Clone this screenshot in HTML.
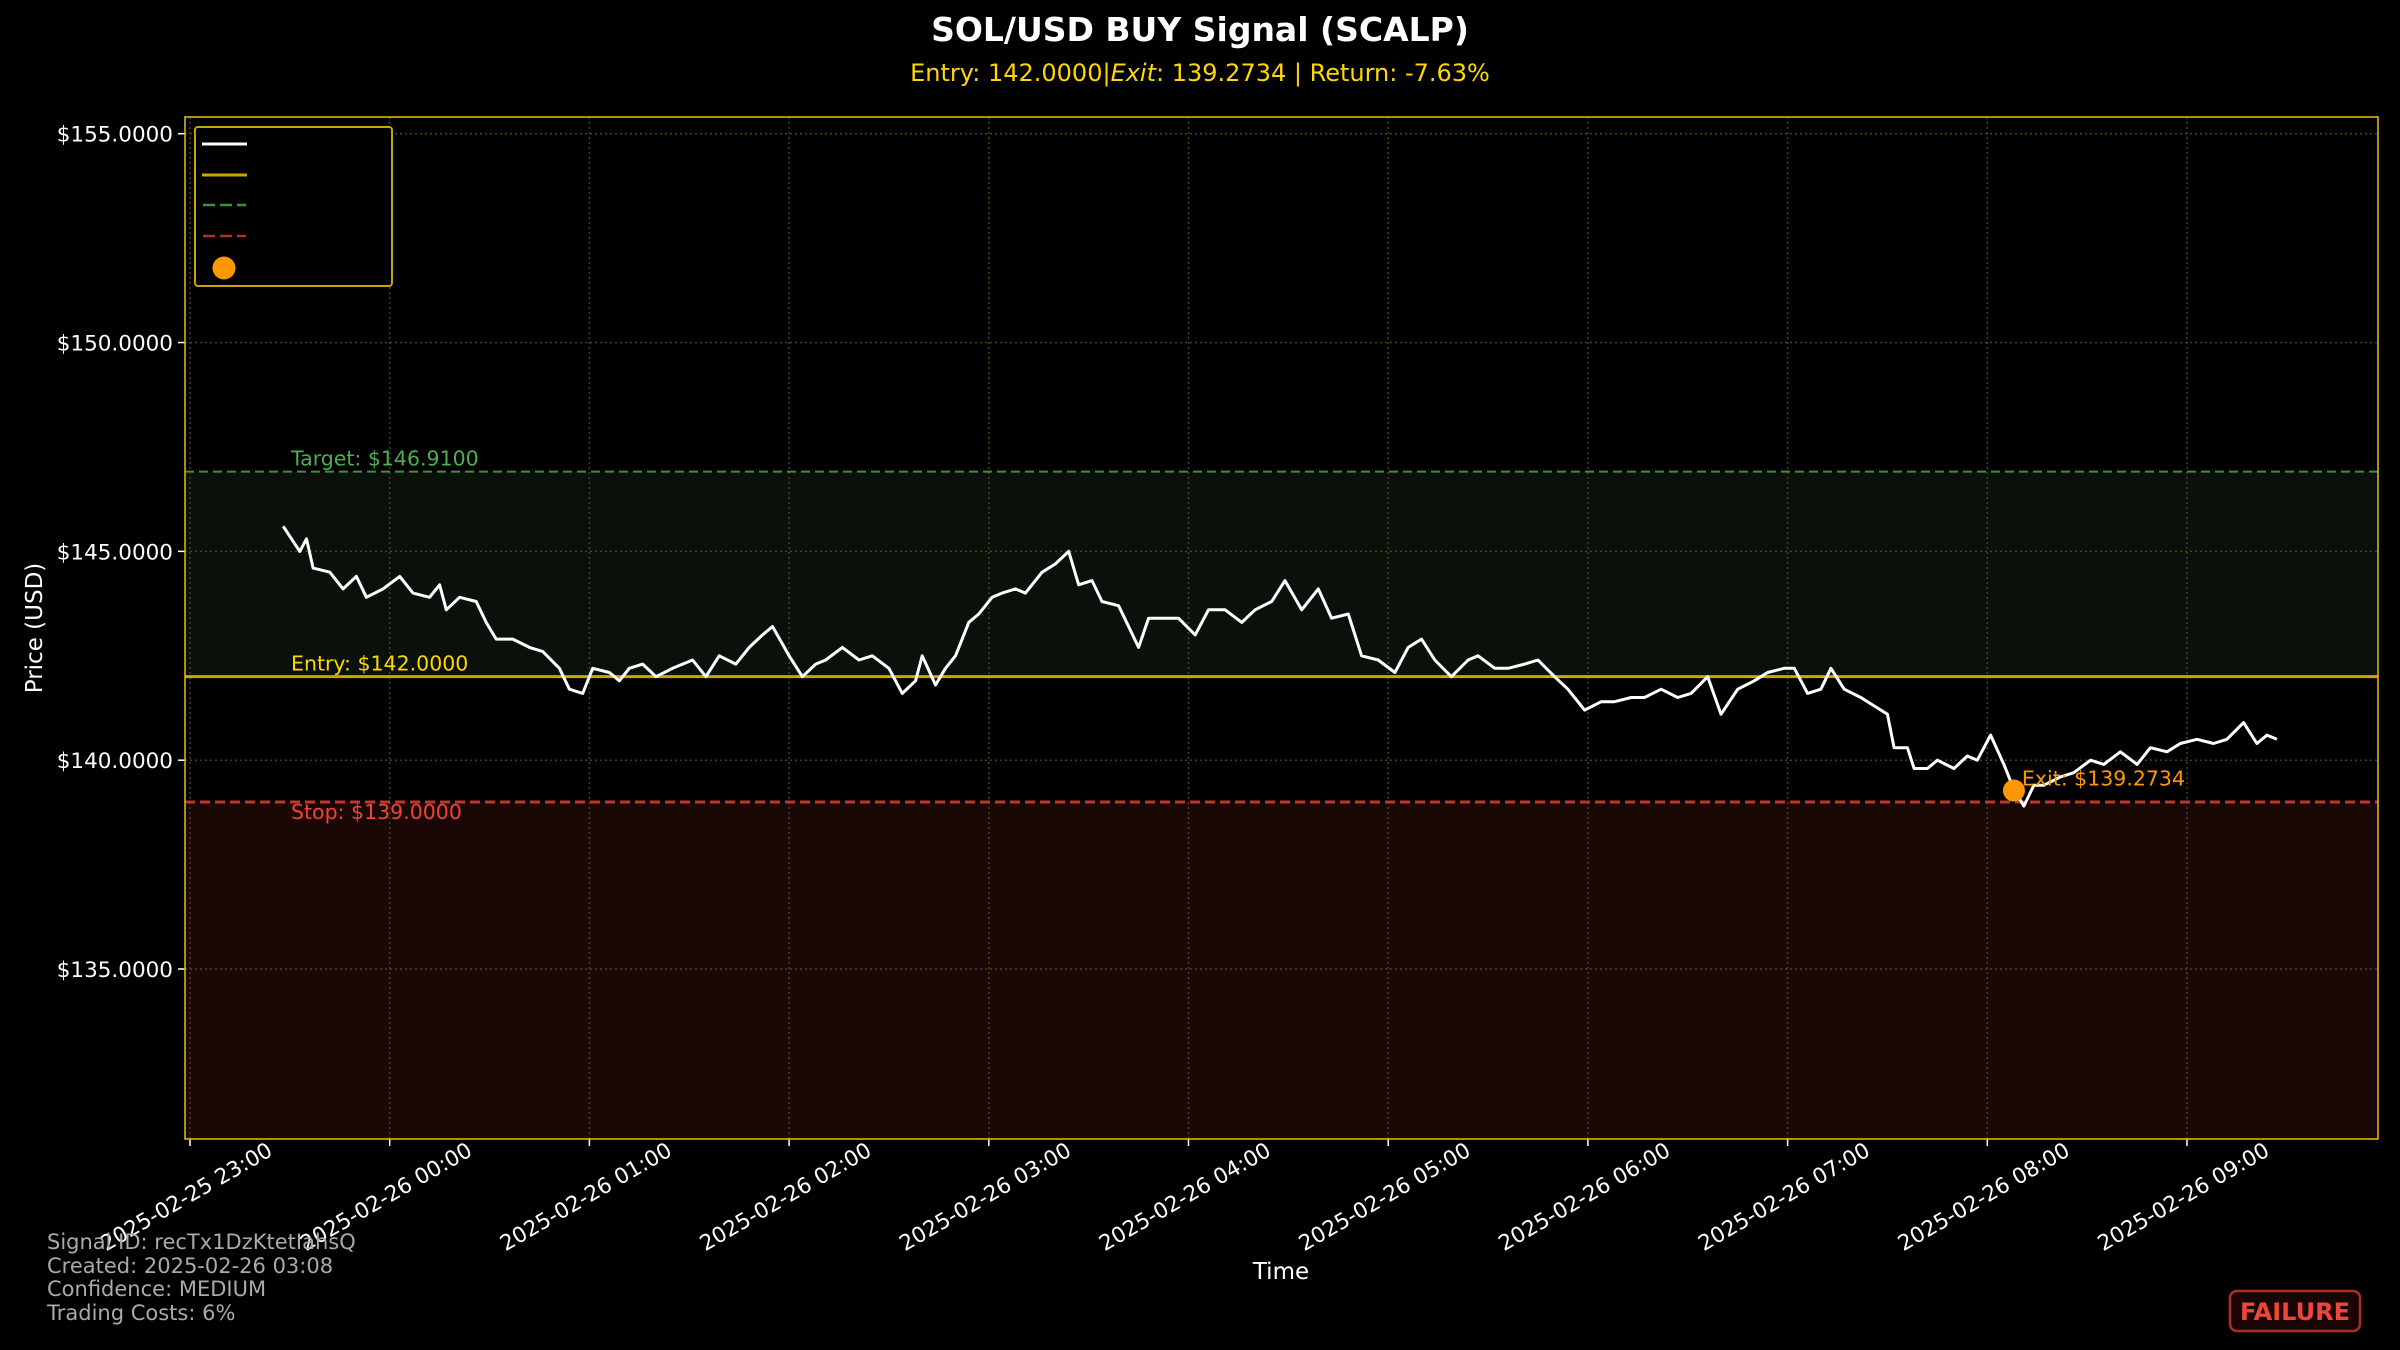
<!DOCTYPE html>
<html><head><meta charset="utf-8"><style>
html,body{margin:0;padding:0;background:#000;}
svg{display:block;font-family:"DejaVu Sans","Liberation Sans",sans-serif;}
</style></head><body>
<svg id="chart" width="2400" height="1350" viewBox="0 0 2400 1350" xmlns="http://www.w3.org/2000/svg">
<rect x="0" y="0" width="2400" height="1350" fill="#000"/>
<text x="1200" y="41" text-anchor="middle" fill="#fff" font-size="33" font-weight="bold">SOL/USD BUY Signal (SCALP)</text>
<text x="1200" y="81" text-anchor="middle" fill="#ffd700" font-size="24">Entry: 142.0000|<tspan font-style="italic">Exit</tspan>: 139.2734 | Return: -7.63%</text>
<g id="plot"></g>
<text x="1281" y="1279" text-anchor="middle" fill="#fff" font-size="23">Time</text>
<text x="0" y="0" transform="translate(42,628) rotate(-90)" text-anchor="middle" fill="#fff" font-size="23">Price (USD)</text>
<g fill="#aaa" font-size="21">
<text x="47" y="1249">Signal ID: recTx1DzKtetIahsQ</text>
<text x="47" y="1273">Created: 2025-02-26 03:08</text>
<text x="47" y="1296">Confidence: MEDIUM</text>
<text x="47" y="1320">Trading Costs: 6%</text>
</g>
<g>
<rect x="2230" y="1291" width="130" height="40" rx="7" fill="#1a0505" stroke="#a8302a" stroke-width="2.5"/>
<text x="2295" y="1320" text-anchor="middle" fill="#f0453a" font-size="24" font-weight="bold">FAILURE</text>
</g>
</svg>
<script>
// Data (minutes after 2025-02-25 23:00, price USD)
const times = [28,33,35,37,42,46,50,53,58,63,67,72,75,77,81,86,89,92,97,102,106,111,114,118,121,126,129,132,136,140,145,151,155,159,164,168,172,175,180,184,188,191,196,201,205,210,214,218,220,224,227,230,234,237,241,244,248,251,256,260,264,267,271,274,279,282,285,288,293,297,302,306,311,316,320,325,329,334,339,343,348,352,357,362,366,370,374,379,384,387,392,396,401,405,410,414,419,424,428,433,437,442,447,451,456,460,465,470,474,479,482,486,490,493,497,502,506,510,512,516,518,522,525,530,534,537,541,545,548,551,554,557,562,566,571,575,580,585,589,594,598,603,608,612,617,621,624,627];
const prices = [145.6,145.0,145.3,144.6,144.5,144.1,144.4,143.9,144.1,144.4,144.0,143.9,144.2,143.6,143.9,143.8,143.3,142.9,142.9,142.7,142.6,142.2,141.7,141.6,142.2,142.1,141.9,142.2,142.3,142.0,142.2,142.4,142.0,142.5,142.3,142.7,143.0,143.2,142.5,142.0,142.3,142.4,142.7,142.4,142.5,142.2,141.6,141.9,142.5,141.8,142.2,142.5,143.3,143.5,143.9,144.0,144.1,144.0,144.5,144.7,145.0,144.2,144.3,143.8,143.7,143.2,142.7,143.4,143.4,143.4,143.0,143.6,143.6,143.3,143.6,143.8,144.3,143.6,144.1,143.4,143.5,142.5,142.4,142.1,142.7,142.9,142.4,142.0,142.4,142.5,142.2,142.2,142.3,142.4,142.0,141.7,141.2,141.4,141.4,141.5,141.5,141.7,141.5,141.6,142.0,141.1,141.7,141.9,142.1,142.2,142.2,141.6,141.7,142.2,141.7,141.5,141.3,141.1,140.3,140.3,139.8,139.8,140.0,139.8,140.1,140.0,140.6,139.9,139.3,138.9,139.4,139.4,139.6,139.7,140.0,139.9,140.2,139.9,140.3,140.2,140.4,140.5,140.4,140.5,140.9,140.4,140.6,140.5];
const entryPrice = 142.0;
const targetPrice = 146.91;
const stopPrice = 139.0;
const exitTime = 548;
const exitPrice = 139.2734;
const yTicks = [135,140,145,150,155];
const xTickHours = [0,1,2,3,4,5,6,7,8,9,10];
const xTickLabels = ["2025-02-25 23:00","2025-02-26 00:00","2025-02-26 01:00","2025-02-26 02:00","2025-02-26 03:00","2025-02-26 04:00","2025-02-26 05:00","2025-02-26 06:00","2025-02-26 07:00","2025-02-26 08:00","2025-02-26 09:00"];

const L=185,R=2378,T=117,B=1139;
const yMin=130.93,yMax=155.4;
const xScale=m=>190+m*(1997/600);
const yScale=p=>B-(p-yMin)/(yMax-yMin)*(B-T);
const NS="http://www.w3.org/2000/svg";
const g=document.getElementById('plot');
function mk(tag,attrs,parent){const e=document.createElementNS(NS,tag);for(const k in attrs)e.setAttribute(k,attrs[k]);(parent||g).appendChild(e);return e;}

let e;
e=mk('rect',{x:L,y:yScale(targetPrice),width:R-L,height:yScale(entryPrice)-yScale(targetPrice),fill:'#0a110a'});


e=mk('rect',{x:L,y:yScale(stopPrice),width:R-L,height:B-yScale(stopPrice),fill:'#1a0807'});



yTicks.forEach(v=>{const y=yScale(v);
 e=mk('line',{x1:L,x2:R,y1:y,y2:y,stroke:'#4a4510','stroke-width':1.5,'stroke-dasharray':'2,3'});
 
 
 e=mk('line',{x1:L-7,x2:L,y1:y,y2:y,stroke:'#fff','stroke-width':1.5});
 
 
 e=mk('text',{x:L-12,y:y+8,'text-anchor':'end',fill:'#fff','font-size':21.5});
 e.textContent='$'+v.toFixed(4);
 
 
});
xTickHours.forEach((h,i)=>{const x=xScale(h*60);
 e=mk('line',{x1:x,x2:x,y1:T,y2:B,stroke:'#4a4510','stroke-width':1.5,'stroke-dasharray':'2,3'});
 
 
 e=mk('line',{x1:x,x2:x,y1:B,y2:B+7,stroke:'#fff','stroke-width':1.5});
 
 
 e=mk('text',{x:0,y:0,transform:`translate(${x},${B+64}) rotate(-30)`,'text-anchor':'middle',fill:'#fff','font-size':21.5});
 e.textContent=xTickLabels[i];
 
 
});

e=mk('line',{x1:L,x2:R,y1:yScale(targetPrice),y2:yScale(targetPrice),stroke:'#3f8f3f','stroke-width':2,'stroke-dasharray':'9,5'});


e=mk('line',{x1:L,x2:R,y1:yScale(entryPrice),y2:yScale(entryPrice),stroke:'#c8a800','stroke-width':3});


e=mk('line',{x1:L,x2:R,y1:yScale(stopPrice),y2:yScale(stopPrice),stroke:'#c0352f','stroke-width':3,'stroke-dasharray':'10,5'});



e=mk('text',{x:291,y:yScale(targetPrice)-6,fill:'#4caf50','font-size':20.5});
e.textContent='Target: $'+targetPrice.toFixed(4);


e=mk('text',{x:291,y:yScale(entryPrice)-6,fill:'#ffd700','font-size':20.5});
e.textContent='Entry: $'+entryPrice.toFixed(4);


e=mk('text',{x:291,y:yScale(stopPrice)+17,fill:'#f44336','font-size':20.5});
e.textContent='Stop: $'+stopPrice.toFixed(4);



const d=times.map((t,i)=>(i?'L':'M')+xScale(t).toFixed(1)+','+yScale(prices[i]).toFixed(1)).join(' ');
e=mk('path',{d:d,fill:'none',stroke:'#fff','stroke-width':3,'stroke-linejoin':'round'});



e=mk('circle',{cx:xScale(exitTime),cy:yScale(exitPrice),r:11,fill:'#ff9800'});


e=mk('text',{x:xScale(exitTime)+8,y:yScale(exitPrice)-5,fill:'#ff9800','font-size':20.5});
e.textContent='Exit: $'+exitPrice.toFixed(4);



e=mk('rect',{x:L,y:T,width:R-L,height:B-T,fill:'none',stroke:'#e6c200','stroke-width':1.5});



const lg=mk('g',{});


mk('rect',{x:195,y:127,width:197,height:159,rx:3,fill:'#000',stroke:'#c8a600','stroke-width':2},lg);
e=mk('line',{x1:202,x2:247,y1:144,y2:144,stroke:'#fff','stroke-width':3},lg);


e=mk('line',{x1:202,x2:247,y1:175,y2:175,stroke:'#c8a800','stroke-width':3},lg);


e=mk('line',{x1:203,x2:246,y1:205,y2:205,stroke:'#3f8f3f','stroke-width':2.5,'stroke-dasharray':'12,5'},lg);


e=mk('line',{x1:203,x2:246,y1:236,y2:236,stroke:'#b0302a','stroke-width':2.5,'stroke-dasharray':'12,5'},lg);


e=mk('circle',{cx:224,cy:268,r:11.5,fill:'#ff9800'},lg);


</script>
</body></html>
